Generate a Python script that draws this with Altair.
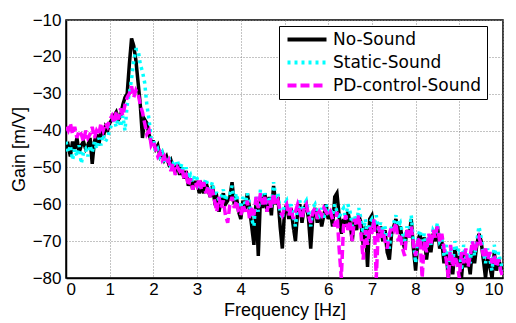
import altair as alt
import pandas as pd

STEP = 0.05
freqs = [round(i * STEP, 2) for i in range(201)]

no_sound = [
    -45, -44, -47, -43, -45, -42, -46, -44, -43, -45, -44, -42, -49, -43, -41, -44, -40, -42, -39, -40,
    -38, -37, -36, -35, -37, -36, -33, -31, -30, -22, -15, -17, -21, -27, -33, -42, -37, -38, -41, -43,
    -43, -45, -44, -47, -46, -48, -47, -49, -48, -50, -51, -49, -52, -50, -53, -51, -55, -53, -56, -54,
    -54, -57, -55, -57, -54, -56, -58, -55, -59, -58, -62, -59, -57, -60, -59, -58, -54, -60, -58, -62,
    -64, -59, -62, -57, -61, -66, -71, -59, -74, -58, -61, -57, -62, -58, -63, -55, -60, -58, -66, -72,
    -62, -60, -64, -61, -66, -70, -62, -60, -65, -61, -60, -64, -72, -63, -61, -65, -62, -66, -63, -60,
    -64, -62, -66, -58, -57, -63, -68, -64, -66, -62, -65, -70, -64, -67, -63, -65, -71, -66, -77, -64,
    -63, -67, -65, -69, -66, -70, -67, -73, -75, -68, -66, -64, -68, -66, -70, -72, -67, -69, -64, -72,
    -78, -70, -68, -72, -69, -75, -70, -73, -68, -70, -66, -72, -70, -76, -73, -80, -74, -79, -72, -76,
    -74, -80, -73, -77, -75, -79, -72, -76, -71, -68, -70, -75, -80, -74, -77, -80, -73, -78, -75, -77,
    -79,
]

static_sound = [
    -43, -46, -44, -48, -45, -47, -44, -49, -46, -45, -47, -44, -46, -43, -45, -42, -44, -41, -43, -42,
    -40, -38, -37, -39, -36, -39, -36, -40, -33, -30, -26, -21, -18, -18, -22, -24, -27, -33, -37, -42,
    -42, -46, -45, -47, -46, -49, -48, -47, -50, -49, -50, -48, -51, -49, -52, -50, -53, -52, -54, -52,
    -53, -56, -54, -55, -53, -55, -56, -54, -57, -57, -59, -58, -56, -59, -57, -57, -55, -59, -57, -60,
    -61, -58, -60, -57, -60, -64, -66, -58, -62, -56, -60, -57, -59, -58, -61, -54, -58, -57, -62, -64,
    -60, -59, -62, -60, -63, -66, -61, -59, -62, -60, -59, -62, -66, -61, -60, -62, -63, -61, -64, -60,
    -62, -61, -63, -60, -62, -64, -62, -61, -64, -60, -62, -66, -63, -65, -61, -64, -68, -64, -70, -65,
    -64, -66, -63, -67, -65, -68, -66, -70, -72, -66, -65, -63, -66, -65, -68, -70, -66, -68, -63, -70,
    -76, -69, -67, -70, -68, -72, -69, -71, -67, -68, -65, -70, -69, -74, -71, -78, -72, -76, -70, -73,
    -72, -78, -71, -75, -73, -76, -70, -74, -70, -66, -69, -73, -76, -72, -75, -78, -71, -75, -73, -76,
    -78,
]

pd_sound = [
    -39, -40, -38, -41, -39, -42, -40, -41, -43, -40, -42, -41, -39, -42, -40, -41, -38, -40, -38, -39,
    -37, -36, -38, -35, -37, -34, -36, -33, -31, -30, -28, -31, -29, -30, -33, -35, -38, -41, -40, -44,
    -43, -45, -47, -46, -48, -47, -49, -48, -51, -49, -52, -50, -51, -50, -53, -52, -55, -53, -56, -54,
    -55, -53, -56, -54, -57, -55, -58, -56, -59, -62, -58, -61, -59, -63, -65, -60, -58, -61, -59, -62,
    -63, -60, -62, -59, -64, -61, -63, -58, -61, -57, -60, -58, -62, -59, -61, -57, -60, -59, -62, -63,
    -61, -60, -63, -61, -64, -62, -60, -62, -64, -61, -60, -63, -65, -62, -61, -64, -62, -63, -61, -62,
    -63, -62, -64, -66, -62, -72, -80, -66, -63, -67, -65, -70, -64, -66, -63, -68, -75, -67, -71, -66,
    -68, -64, -80, -66, -69, -67, -70, -72, -68, -66, -67, -65, -70, -68, -72, -74, -67, -69, -66, -71,
    -74, -70, -69, -80, -70, -73, -68, -71, -67, -69, -66, -70, -68, -72, -75, -80, -71, -77, -74, -76,
    -80, -73, -76, -72, -77, -74, -70, -73, -71, -69, -71, -74, -72, -75, -73, -76, -74, -77, -75, -78,
    -80,
]

series_names = ["No-Sound", "Static-Sound", "PD-control-Sound"]
series_colors = ["#000000", "#00FFFF", "#FF00FF"]
series_dashes = [[1, 0], [3, 4], [9, 4]]

rows = []
for name, vals in zip(series_names, [no_sound, static_sound, pd_sound]):
    for f, g in zip(freqs, vals):
        rows.append({"Frequency": f, "Gain": g, "Series": name})
df = pd.DataFrame(rows)

AXFONT = "Liberation Sans"
LEGFONT = "DejaVu Sans"

color = alt.Color(
    "Series:N",
    scale=alt.Scale(domain=series_names, range=series_colors),
    legend=alt.Legend(
        title=None,
        orient="none",
        legendX=213,
        legendY=6,
        symbolType="M-1,0H6.8",
        symbolSize=100,
        symbolStrokeWidth=4,
        labelFontSize=17,
        labelFont=LEGFONT,
        labelColor="#000",
        strokeColor="#000",
        fillColor="#fff",
        padding=5,
        rowPadding=5,
        labelOffset=32,
    ),
)
dash = alt.StrokeDash(
    "Series:N",
    scale=alt.Scale(domain=series_names, range=series_dashes),
    legend=None,
)

xenc = alt.X(
    "Frequency:Q",
    scale=alt.Scale(domain=[0, 10], nice=False),
    axis=alt.Axis(title="Frequency [Hz]", values=list(range(11))),
)
yenc = alt.Y(
    "Gain:Q",
    scale=alt.Scale(domain=[-80, -10], nice=False),
    axis=alt.Axis(title="Gain [m/V]", values=list(range(-80, 0, 10))),
)

layers = []
for name in series_names:
    layers.append(
        alt.Chart(df)
        .transform_filter(alt.datum.Series == name)
        .mark_line(strokeWidth=3.5, clip=True)
        .encode(x=xenc, y=yenc, color=color, strokeDash=dash)
    )

chart = (
    alt.layer(*layers)
    .properties(
        width=437,
        height=258,
        autosize=alt.AutoSizeParams(type="none"),
        padding={"left": 58, "top": 12, "right": 2, "bottom": 46},
    )
    .configure_view(stroke="#000", strokeWidth=1.5)
    .configure_axis(
        labelFont=AXFONT,
        titleFont=AXFONT,
        labelFontSize=17,
        titleFontSize=18,
        titleFontWeight="normal",
        labelColor="#000",
        titleColor="#000",
        domainColor="#000",
        domainWidth=1.5,
        ticks=False,
        grid=True,
        gridColor="#888",
        gridDash=[1, 2],
        gridWidth=1,
    )
    .configure_axisX(labelPadding=3, titlePadding=4)
    .configure_axisY(labelPadding=5, titlePadding=4)
)

chart.save("out.html", embed_options={"renderer": "svg", "actions": False})
